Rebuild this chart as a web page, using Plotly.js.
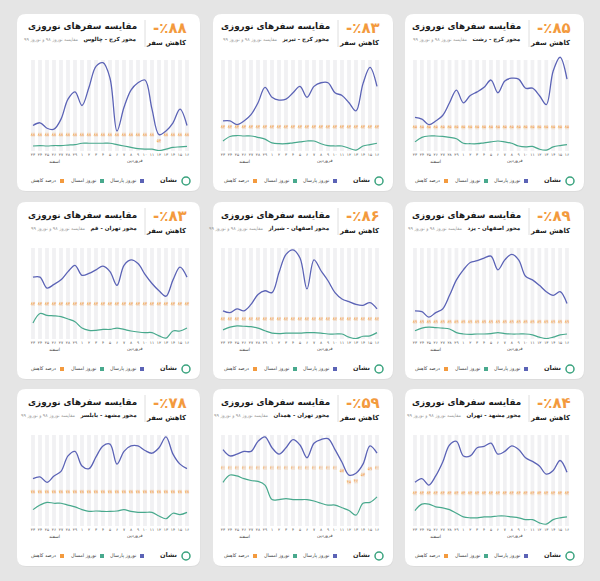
<!DOCTYPE html>
<html><head><meta charset="utf-8">
<script src="https://cdn.plot.ly/plotly-3.0.1.min.js"></script>
<style>html,body{margin:0;padding:0;background:#e5e5e5;}</style>
</head><body><div id="chart" style="width:600px;height:581px;"></div>
<script>
// ---------- data ----------
const days = ['۲۳','۲۴','۲۵','۲۶','۲۷','۲۸','۲۹','۱','۲','۳','۴','۵','۶','۷','۸','۹','۱۰','۱۱','۱۲','۱۳','۱۴','۱۵','۱۶'];
const monthNames = ['اسفند','فروردین'];
const mainTitle = 'مقایسه سفرهای نوروزی';
const compareNote = 'مقایسه نوروز ۹۸ و نوروز ۹۹';
const reduceLabel = 'کاهش سفر';
const legendNames = ['نوروز پارسال','نوروز امسال','درصد کاهش'];
const brand = 'نشان';

const routes = ['محور کرج - چالوس','محور کرج - تبریز','محور کرج - رشت',
                'محور تهران - قم','محور اصفهان - شیراز','محور اصفهان - یزد',
                'محور مشهد - بابلسر','محور تهران - همدان','محور مشهد - تهران'];
const totals = [88,83,85, 83,86,89, 78,59,84];

const chalousLast = [28,31,25,24,35,57,65,50,70,93,97,80,22,48,67,75,78,46,18,22,31,46,28];
const chalousNow  = [5.5,6,5.5,6,6,6.5,7,8.5,8.5,8.5,8.5,8.5,7,5.5,4,2.5,2,2,0.5,2,4,4.5,5];
const chalousPct  = [88,88,88,88,88,88,88,88,88,88,88,88,88,88,88,88,88,88,54,88,88,88,88];

const tabrizLast = [33,33,29,33,40,53,70,59,56,57,64,71,59,71,75,75,64,61,53,44,74,92,71];
const tabrizNow  = [11,16,17,16.5,16.5,15,13,9,8,8,9,10,11,11,8,6,5.5,5.5,3,1,5.5,7,8.5];
const tabrizPct  = [83,83,83,83,83,83,83,83,83,83,83,83,83,83,83,83,83,83,83,83,83,83,83];

const rashtLast = [37,35,29,33,39,53,67,53,61,65,70,78,64,77,80,79,69,69,61,51,88,103,79];
const rashtNow  = [10,15,16.5,16.5,16,15,13.5,8.5,8,8,9,10,11,10,8.5,5.5,4.5,5,2,1,4.5,6,7];
const rashtPct  = [85,85,85,85,85,85,85,85,85,85,85,85,85,85,85,85,85,85,85,85,85,85,85];

const qomLast = [68,68,56,60,65,74,81,70,72,76,80,74,59,81,87,83,71,61,53,47,65,79,68];
const qomNow  = [17.5,28,26,25.5,24.5,22,19,12,9.5,9.5,10.5,10.5,12,10.5,8.8,7.7,7,7,3.5,1,8.8,8.8,12];
const qomPct  = [83,83,83,83,83,83,83,83,83,83,83,83,83,83,83,83,83,83,83,83,83,83,83];

const shirazLast = [31,29,33,31,38,49,53,51,73,93,98,89,55,87,75,64,51,44,41,38,37,40,33];
const shirazNow  = [10,13,14.5,14,13.5,12,9,6.5,6,6.5,6.5,6.5,7,7,6.5,5.5,5.5,5.5,2,0.5,3,3.5,7];
const shirazPct  = [86,86,86,86,86,86,86,86,86,86,86,86,86,86,86,86,86,86,86,86,86,86,86];

const yazdLast = [31,30,24,29,33,48,65,76,84,86,89,91,76,87,93,87,69,65,59,52,48,52,39];
const yazdNow  = [9,12,13,12.5,12,11,7,5.5,5,5.5,5.5,6,7,6,5.5,5.5,5.5,4.5,2,0.5,2,4.5,5.5];
const yazdPct  = [89,89,89,89,89,89,89,89,89,89,89,89,89,89,89,89,89,89,89,89,89,89,89];

const babolsarLast = [52,54,48,55,60,77,82,66,63,76,88,90,68,82,88,88,83,80,86,98,79,68,63];
const babolsarNow  = [18,23,26,25,25,23,21,18,16,16.5,16,16,16.5,18,16,15,15,15,11,8,14,12.5,15];
const babolsarPct  = [78,78,78,78,78,78,78,78,78,78,78,78,78,78,78,78,78,78,78,78,78,78,78];

const hamadanLast = [84,77,79,82,82,93,98,86,79,86,95,89,75,91,95,96,84,70,56,58,68,88,80];
const hamadanNow  = [48,56,55,52,50,49,45,29,29,30,29,29,29,27.5,25,23,23,20,17,12,25,26,32];
const hamadanPct  = [60,60,60,60,60,60,60,60,60,60,60,60,60,60,60,60,60,57,45,46,53,59,60];

const tehranLast = [48,52,45,55,70,89,93,77,77,86,87.5,91,79,82,88,84,75,71,66,57,61,72,59];
const tehranNow  = [17,24,24,21,20,18,14,10,9,9,10,10,11,11,10,9,7,7,3.5,2,7,9,10];
const tehranPct  = [84,84,84,84,84,84,84,84,84,84,84,84,84,84,84,84,84,84,84,84,84,84,84];

// ---------- layout helpers ----------
const F = 'DejaVu Sans';
const W = 600, H = 581;
const px = x => x / W, py = y => 1 - y / H;
const fa = n => String(n).replace(/\d/g, d => '۰۱۲۳۴۵۶۷۸۹'[d]);

const BLUE = '#5b63b6', GREEN = '#48a98d', ORANGE = '#f39a3e';
const colRight = [200, 393, 584], colWidth = [183, 180, 179];
const lineStart = [33, 223, 415], lineEnd = [187, 377, 567];
const rowTop = [14, 202, 389], cardH = 177;

const series = [
  [chalousLast, chalousNow, chalousPct], [tabrizLast, tabrizNow, tabrizPct], [rashtLast, rashtNow, rashtPct],
  [qomLast, qomNow, qomPct], [shirazLast, shirazNow, shirazPct], [yazdLast, yazdNow, yazdPct],
  [babolsarLast, babolsarNow, babolsarPct], [hamadanLast, hamadanNow, hamadanPct], [tehranLast, tehranNow, tehranPct]
];
const pctRanges = [518, 332, 346, 228, 414, 496, 220, 99.4, 247];

function rr(x0, y0, x1, y1, r) {
  const P = (x, y) => px(x).toFixed(5) + ',' + py(y).toFixed(5);
  return `M${P(x0+r,y0)} L${P(x1-r,y0)} Q${P(x1,y0)} ${P(x1,y0+r)} L${P(x1,y1-r)} Q${P(x1,y1)} ${P(x1-r,y1)} L${P(x0+r,y1)} Q${P(x0,y1)} ${P(x0,y1-r)} L${P(x0,y0+r)} Q${P(x0,y0)} ${P(x0+r,y0)} Z`;
}

const data = [];
const shapes = [];
const annotations = [];
const layout = {
  width: W, height: H, margin: {l: 0, r: 0, t: 0, b: 0, pad: 0},
  paper_bgcolor: '#e5e5e5', plot_bgcolor: 'rgba(0,0,0,0)',
  showlegend: false, font: {family: F}
};

function ann(x, y, text, size, color, xanchor, bold) {
  annotations.push({
    xref: 'paper', yref: 'paper', x: px(x), y: py(y), text: bold ? '<b>' + text + '</b>' : text,
    showarrow: false, xanchor: xanchor, yanchor: 'middle',
    font: {family: F, size: size, color: color}
  });
}

for (let k = 0; k < 9; k++) {
  const r = Math.floor(k / 3), c = k % 3;
  const R = colRight[c], L = R - colWidth[c], T = rowTop[r];
  const id = k === 0 ? '' : String(k + 1);
  const pid = String(k + 10);
  const [last, now, pct] = series[k];

  // card
  shapes.push({type: 'path', xref: 'paper', yref: 'paper', path: rr(L + 0.5, T + 1, R + 0.5, T + cardH + 1, 9),
    fillcolor: 'rgba(0,0,0,0.035)', line: {width: 0}, layer: 'below'});
  shapes.push({type: 'path', xref: 'paper', yref: 'paper', path: rr(L, T, R, T + cardH, 9),
    fillcolor: '#ffffff', line: {width: 0}, layer: 'below'});

  // axes
  const step = (lineEnd[c] - lineStart[c]) / (days.length - 1);
  const d0 = lineStart[c] - step / 2, d1 = lineEnd[c] + step / 2;
  const base = T + 137, top = T + 46;
  const yTop = top - 0.06 * (base - top);
  layout['xaxis' + id] = {domain: [px(d0), px(d1)], type: 'category', range: [-0.5, days.length - 0.5],
    anchor: 'y' + id, showgrid: false, zeroline: false, showline: false, ticks: '',
    tickfont: {family: F, size: 4, color: '#555'}, tickangle: 0, fixedrange: true};
  layout['yaxis' + id] = {domain: [py(base), py(yTop)], range: [0, 106], anchor: 'x' + id,
    visible: false, fixedrange: true};
  layout['yaxis' + pid] = {overlaying: 'y' + id, anchor: 'x' + id, range: [0, pctRanges[k]],
    visible: false, fixedrange: true};

  // stripes
  days.forEach((d, i) => {
    shapes.push({type: 'rect', xref: 'x' + id, yref: 'y' + id, x0: i - 0.27, x1: i + 0.27, y0: 0, y1: 100,
      fillcolor: '#f1f1f3', line: {width: 0}, layer: 'below'});
  });

  // traces
  data.push({type: 'scatter', mode: 'lines', x: days, y: last, xaxis: 'x' + id, yaxis: 'y' + id,
    line: {color: BLUE, width: 1.3, shape: 'spline', smoothing: 1}, name: legendNames[0], hoverinfo: 'skip'});
  data.push({type: 'scatter', mode: 'lines', x: days, y: now, xaxis: 'x' + id, yaxis: 'y' + id,
    line: {color: GREEN, width: 1.2, shape: 'spline', smoothing: 1}, name: legendNames[1], hoverinfo: 'skip'});
  data.push({type: 'scatter', mode: 'markers+text', x: days, y: pct, xaxis: 'x' + id, yaxis: 'y' + pid,
    marker: {symbol: 'square', size: 4, color: 'rgba(243,154,62,0.2)'},
    text: pct.map(fa), textposition: 'middle center', cliponaxis: false,
    textfont: {family: F, size: 4, color: ORANGE}, name: legendNames[2], hoverinfo: 'skip'});

  // month labels
  annotations.push({xref: 'x' + id, yref: 'paper', x: 3, y: py(T + 147), text: monthNames[0], showarrow: false,
    font: {family: F, size: 4.5, color: '#444'}, yanchor: 'middle'});
  annotations.push({xref: 'x' + id, yref: 'paper', x: 14.5, y: py(T + 147), text: monthNames[1], showarrow: false,
    font: {family: F, size: 4.5, color: '#444'}, yanchor: 'middle'});

  // header
  ann(R - 61, T + 13, mainTitle, 8.8, '#1b1b1b', 'right', true);
  ann(R - 61, T + 26, '<b>' + routes[k] + '</b>   <span style="font-size:4.6px;color:#9a9a9a">' + compareNote + '</span>',
      5.6, '#1b1b1b', 'right', false);
  ann(R - 11, T + 14, '-٪' + fa(totals[k]), 15, ORANGE, 'right', true);
  ann(R - 12, T + 29, reduceLabel, 6.8, '#1b1b1b', 'right', true);
  shapes.push({type: 'line', xref: 'paper', yref: 'paper', x0: px(R - 55), x1: px(R - 55), y0: py(T + 6), y1: py(T + 33),
    line: {color: '#d6d6d6', width: 0.8}});

  // legend
  const ly = T + 167;
  const sq = (cx, col) => shapes.push({type: 'rect', xref: 'paper', yref: 'paper',
    x0: px(cx - 2), x1: px(cx + 2), y0: py(ly + 2), y1: py(ly - 2), fillcolor: col, line: {width: 0}});
  sq(R - 58, BLUE); sq(R - 98, GREEN); sq(R - 138, ORANGE);
  ann(R - 62, ly, legendNames[0], 4.8, '#444', 'right', false);
  ann(R - 102, ly, legendNames[1], 4.8, '#444', 'right', false);
  ann(R - 142, ly, legendNames[2], 4.8, '#444', 'right', false);
  shapes.push({type: 'circle', xref: 'paper', yref: 'paper', x0: px(R - 18), x1: px(R - 10), y0: py(ly + 4), y1: py(ly - 4),
    line: {color: '#3aa37e', width: 1.5}, fillcolor: '#ffffff'});
  ann(R - 21, ly - 1, brand, 6.5, '#2a2a2a', 'right', true);
}

layout.shapes = shapes;
layout.annotations = annotations;
Plotly.newPlot('chart', data, layout, {displayModeBar: false, staticPlot: true});
</script>
</body></html>
